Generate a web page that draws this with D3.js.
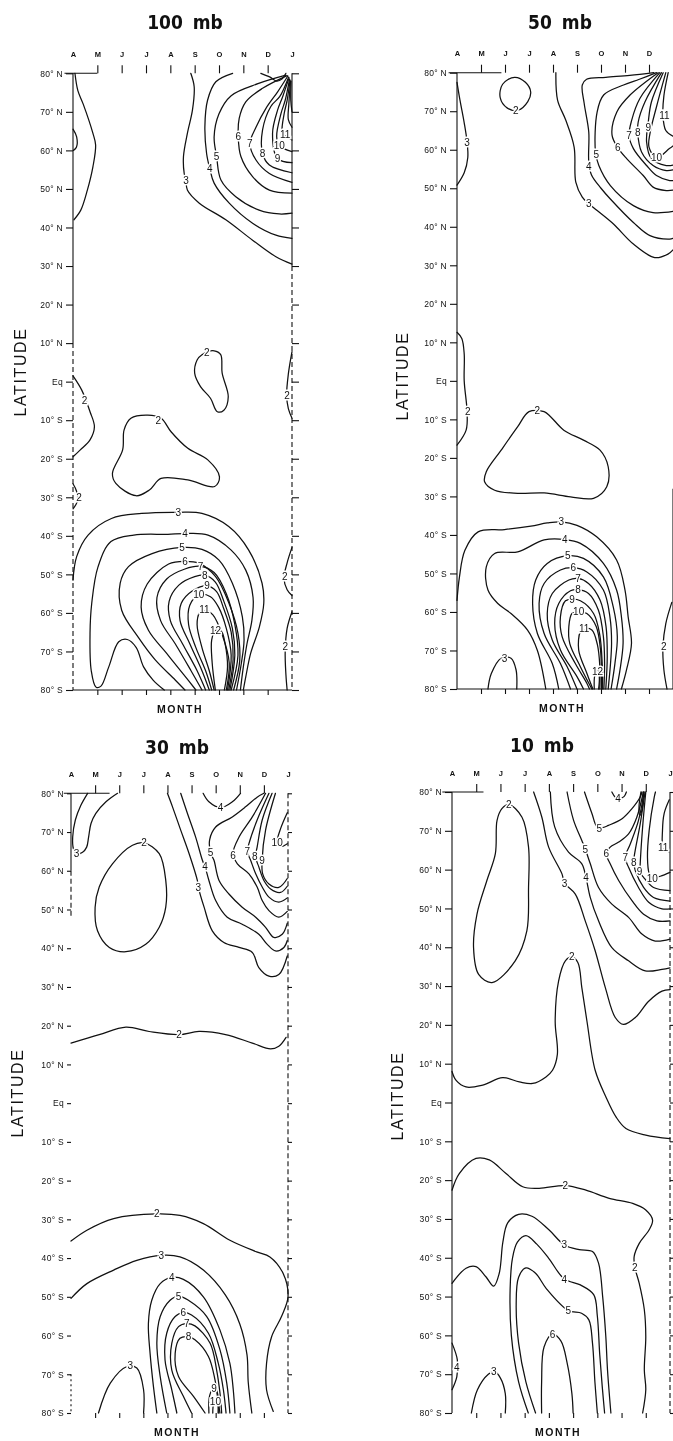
<!DOCTYPE html>
<html>
<head>
<meta charset="utf-8">
<script src="https://cdn.jsdelivr.net/npm/d3@7"></script>
<style>
  body { margin: 0; background: #fff; }
  svg { display: block; filter: grayscale(1); }
  .ct { fill: none; stroke: #111; stroke-width: 1.25; stroke-linejoin: round; stroke-linecap: round; }
  .lbl { font-family: "Liberation Sans", Arial, sans-serif; font-size: 10px; fill: #111;
         paint-order: stroke; stroke: #fff; stroke-width: 3px; text-anchor: middle; dominant-baseline: central; }
  .title { font-family: "Liberation Sans Narrow", "DejaVu Sans Condensed", "Liberation Sans", sans-serif;
           font-weight: bold; font-size: 19px; text-anchor: middle; fill: #111; word-spacing: 4px; }
  .axtitle { font-family: "Liberation Sans", Arial, sans-serif; fill: #111; text-anchor: middle; }
  .ax { stroke: #111; stroke-width: 1.1; fill: none; }
</style>
</head>
<body>
<svg id="chart" width="673" height="1441"></svg>
<script>
// months along the top, April .. January
const months = ["A", "M", "J", "J", "A", "S", "O", "N", "D", "J"];
const latTicks = [80, 70, 60, 50, 40, 30, 20, 10, 0, -10, -20, -30, -40, -50, -60, -70, -80];

// contour lines: v = isoline value, p = [month index, latitude], l = label spots
const c100 = [
  { v: 3, p: [[0.08,80],[0.2,75.5],[0.42,72],[0.82,64.4],[0.93,61.4],[0.82,55.8],[0.59,49.7],[0.32,44.5],[0.04,42]], l: [] },
  { v: 3, p: [[0,65.5],[0.15,63.5],[0.14,60.8],[0.02,60]], l: [] },
  { v: 3, p: [[4.84,80],[4.98,76.5],[4.91,70.5],[4.7,64.4],[4.54,58.4],[4.57,54],[4.64,52.3],[4.7,49.7],[5.19,46.3],[6.28,42],[7.38,36.7],[8.34,32.4],[9,30.5]], l: [[4.64,52.3]] },
  { v: 4, p: [[6.56,80],[5.87,77.8],[5.53,73],[5.42,66.2],[5.49,59.2],[5.62,55.3],[5.8,51.5],[6.42,46.3],[7.38,41.1],[8.34,38],[9,37.2]], l: [[5.62,55.3]] },
  { v: 5, p: [[8.75,79.5],[7.6,77.3],[6.5,74.2],[6.0,69.5],[5.8,63.5],[5.9,58.5],[6.08,52.3],[6.69,48],[7.65,44.5],[8.48,43.5],[9,43.7]], l: [[5.9,58.5]] },
  { v: 6, p: [[8.8,79.4],[7.79,76.1],[7.1,72.6],[6.83,68.3],[6.79,63.6],[6.9,58.4],[7.38,53.2],[8.07,49.7],[9,48.9]], l: [[6.79,63.6]] },
  { v: 7, p: [[8.83,79.3],[8.41,75.2],[7.93,70.9],[7.52,66],[7.27,61.8],[7.52,57.5],[8.07,54],[9,51.7]], l: [[7.27,61.8]] },
  { v: 8, p: [[8.86,79],[8.5,74],[8.13,71.4],[7.79,65.3],[7.79,59.2],[8.07,56.2],[9,54.2]], l: [[7.79,59.2]] },
  { v: 9, p: [[8.88,78.8],[8.62,74],[8.41,70.5],[8.2,64.4],[8.41,57.9],[9,56.8]], l: [[8.41,57.9]] },
  { v: 10, p: [[8.9,78.5],[8.72,73],[8.55,69.6],[8.37,63.6],[8.48,61.2],[9,59.7]], l: [[8.48,61.2]] },
  { v: 11, p: [[8.92,78.2],[8.8,73],[8.68,69.6],[8.6,64.9],[8.72,64],[9,62.7]], l: [[8.72,64]] },
  { v: 12, p: [[8.94,78],[8.87,72],[8.85,68],[9,66]], l: [] },
  { v: 13, p: [[8.96,78],[8.95,73],[9,70]], l: [] },
  { v: 5, p: [[7.72,80],[8.1,79],[8.37,78],[8.6,78.6],[8.75,80]], l: [] },
  { v: 2, c: 1, p: [[5.3,7],[5.1,5.6],[5.0,2.2],[5.24,-1.3],[5.65,-4.3],[5.93,-7.8],[6.2,-7.4],[6.38,-3.9],[6.13,2.2],[6.07,7],[5.8,8]], l: [[5.5,7.6]] },
  { v: 2, p: [[0,1.5],[0.36,-2.2],[0.7,-7.8],[0.88,-11.7],[0.7,-15.1],[0.3,-17.7],[0,-19.5]], l: [[0.47,-5]] },
  { v: 2, p: [[0,-26.5],[0.15,-28.5],[0.18,-31],[0,-33]], l: [[0.25,-30]] },
  { v: 2, c: 1, p: [[2.1,-12.5],[2.04,-17.7],[1.62,-23.8],[1.76,-26.4],[2.59,-29.6],[3.14,-28.1],[3.62,-25.1],[4.72,-25.5],[5.82,-27.2],[6.02,-24.7],[5.54,-20.3],[4.72,-17.3],[4.03,-13],[3.62,-9.5],[3.07,-8.7],[2.38,-9.5]], l: [[3.5,-10]] },
  { v: 2, p: [[9,7.8],[8.85,2],[8.78,-3.5],[8.85,-7],[9,-9.5]], l: [[8.8,-3.5]] },
  { v: 2, p: [[9,-43],[8.8,-47],[8.67,-51],[8.8,-54],[9,-55.5]], l: [[8.7,-50.5]] },
  { v: 2, p: [[9,-59.7],[8.8,-64],[8.72,-70],[8.75,-76],[8.8,-80]], l: [[8.72,-68.8]] },
  { v: 3, p: [[0,-51.5],[0.15,-45.4],[0.62,-39.8],[1.58,-35.5],[2.82,-34.2],[4.33,-33.9],[5.3,-34.2],[6.4,-37.6],[7.22,-43.7],[7.77,-52.3],[7.84,-57.5],[7.66,-63.6],[7.3,-70.5],[7.1,-76.6],[7.0,-80]], l: [[4.33,-33.9]] },
  { v: 4, p: [[3.75,-80],[3.3,-77.5],[2.9,-74],[2.6,-69],[2.23,-66.9],[1.88,-67.5],[1.47,-74],[1.15,-79],[0.95,-79.3],[0.75,-75],[0.7,-65.3],[0.77,-57.5],[1.03,-48],[1.56,-41.5],[2.5,-39.8],[3.9,-39.6],[4.6,-39.4],[5.55,-39.8],[6.5,-43.7],[7.1,-48.9],[7.4,-56],[7.35,-62],[7.15,-68],[7.0,-74],[6.88,-80]], l: [[4.6,-39.4]] },
  { v: 5, p: [[4.6,-80],[4.2,-77.4],[3.38,-72.2],[2.7,-66.5],[2.0,-59.3],[1.94,-52.3],[2.28,-48],[3.25,-44.6],[4.48,-43],[5.3,-43.5],[6.0,-46.3],[6.55,-52.3],[6.96,-61],[7.03,-67],[6.92,-73],[6.72,-80]], l: [[4.48,-43]] },
  { v: 6, p: [[5.05,-80],[4.55,-76],[3.85,-70.5],[3.1,-64.5],[2.8,-58.5],[3.05,-52.5],[3.93,-47.3],[4.6,-46.6],[5.17,-47.1],[5.86,-50.6],[6.41,-57.5],[6.78,-65.3],[6.85,-72.5],[6.6,-80]], l: [[4.6,-46.6]] },
  { v: 7, p: [[5.3,-80],[4.85,-75],[4.2,-68],[3.6,-62],[3.45,-56],[3.85,-51.2],[4.6,-48.6],[5.24,-47.9],[5.8,-49.5],[6.3,-55],[6.65,-63],[6.78,-71],[6.5,-80]], l: [[5.24,-47.9]] },
  { v: 8, p: [[5.45,-80],[5.1,-75],[4.5,-68],[4.0,-62],[3.95,-57],[4.35,-52.8],[5.0,-50.6],[5.42,-50.2],[5.85,-52],[6.2,-57],[6.55,-64],[6.65,-71],[6.45,-80]], l: [[5.42,-50.2]] },
  { v: 9, p: [[5.6,-80],[5.3,-75],[4.8,-68],[4.4,-62],[4.45,-57.5],[4.9,-54.3],[5.51,-53],[5.9,-54.5],[6.2,-59],[6.5,-65],[6.58,-72],[6.4,-80]], l: [[5.51,-53]] },
  { v: 10, p: [[5.7,-80],[5.45,-75],[5.05,-69],[4.75,-63],[4.8,-58],[5.17,-55.3],[5.65,-55.8],[5.98,-58.5],[6.3,-64],[6.5,-71],[6.35,-80]], l: [[5.17,-55.2]] },
  { v: 11, p: [[5.8,-80],[5.6,-75],[5.3,-69],[5.1,-63],[5.2,-60],[5.4,-59.2],[5.75,-60.5],[6.15,-66],[6.42,-73],[6.3,-80]], l: [[5.4,-59.1]] },
  { v: 12, p: [[5.85,-80],[5.72,-73],[5.7,-67],[5.86,-64.5],[6.1,-64.8],[6.25,-68],[6.35,-74],[6.22,-80]], l: [[5.86,-64.5]] }
];

const c50 = [
  { v: 3, p: [[0,77.5],[0.12,73],[0.3,67],[0.42,62],[0.45,58],[0.3,54],[0,50.8]], l: [[0.42,62]] },
  { v: 2, c: 1, p: [[2.4,78.8],[2.85,77.5],[3.07,75],[2.95,72.5],[2.55,70.3],[2.1,70.8],[1.8,73.5],[1.9,77]], l: [[2.45,70.3]] },
  { v: 3, p: [[4.12,80],[4.19,72.9],[4.53,67.7],[4.88,60.7],[4.95,51.6],[5.22,47.7],[5.49,46],[5.84,44.2],[6.52,40.7],[7.35,35.5],[8.24,32],[8.79,32.9],[9,34]], l: [[5.49,46]] },
  { v: 4, p: [[8.2,80],[7.2,79.3],[6.2,78.8],[5.4,78.3],[5.22,76.8],[5.3,72],[5.49,64.6],[5.49,57],[5.6,53.5],[6.0,50],[6.39,47.2],[7.35,41.1],[8.04,37.7],[8.86,36.8],[9,37]], l: [[5.49,55.6]] },
  { v: 5, p: [[8.31,80],[7.6,78.3],[6.94,76.8],[6.11,74.2],[5.84,69.8],[5.77,59.4],[5.91,55.9],[6.39,50.7],[7.35,45.5],[8.17,43.7],[9,44]], l: [[5.8,58.7]] },
  { v: 6, p: [[8.38,80],[7.21,74.2],[6.66,69.8],[6.46,63.8],[6.73,60.3],[7.07,57.7],[7.76,53.3],[8.17,50.3],[8.72,49.4],[9,49.5]], l: [[6.7,60.5]] },
  { v: 7, p: [[8.45,80],[7.62,73.3],[7.28,67.7],[7.17,63.7],[7.35,60.3],[7.9,55.9],[8.31,53.3],[8.86,52],[9,52]], l: [[7.17,63.7]] },
  { v: 8, p: [[8.52,80],[7.83,72.4],[7.55,67.2],[7.53,64.4],[7.69,59.4],[8.17,55.9],[8.72,54.6],[9,54.8]], l: [[7.53,64.4]] },
  { v: 9, p: [[8.59,80],[8.1,72.4],[7.97,67.2],[7.9,62],[8.1,57.7],[8.72,55.9],[9,56]], l: [[7.97,65.7]] },
  { v: 10, p: [[8.7,80],[8.31,71.1],[8.04,64.2],[8.0,60.7],[8.31,57.9],[8.85,60.3],[9,61]], l: [[8.31,57.9]] },
  { v: 11, p: [[8.8,80],[8.62,74],[8.58,69],[8.7,65],[9,63.5]], l: [[8.64,69]] },
  { v: 2, p: [[0,12.6],[0.2,11],[0.3,7],[0.3,0],[0.42,-8],[0.38,-12.8],[0,-16.7]], l: [[0.45,-8]] },
  { v: 2, c: 1, p: [[3.0,-8],[2.53,-11.9],[1.84,-18],[1.22,-23.6],[1.15,-26.2],[1.57,-28.4],[2.53,-29.2],[3.63,-29.1],[4.73,-30.1],[5.69,-30.5],[6.24,-27.5],[6.3,-22.3],[5.96,-18],[5.27,-15.4],[4.45,-12.8],[3.9,-9.3],[3.63,-8]], l: [[3.35,-7.6]] },
  { v: 3, p: [[0,-57],[0.1,-51],[0.33,-44],[0.88,-39.2],[1.98,-38.6],[3.08,-37.7],[3.76,-36.9],[4.35,-36.6],[5.0,-37.5],[5.82,-40.5],[6.65,-46.5],[7.0,-54.3],[7.13,-61.2],[7.27,-68.2],[7.06,-75.1],[6.85,-80]], l: [[4.35,-36.6]] },
  { v: 4, p: [[3.7,-80],[3.35,-70],[2.94,-64.7],[2.25,-60.4],[1.7,-57.8],[1.29,-54.3],[1.22,-48.3],[1.57,-44.8],[2.53,-44.4],[3.63,-41.3],[4.49,-41.2],[5.14,-42.2],[6.1,-47.4],[6.65,-54.3],[6.85,-61.2],[6.92,-68.2],[6.79,-75.1],[6.65,-80]], l: [[4.49,-41.2]] },
  { v: 5, p: [[4.24,-80],[3.97,-73.4],[3.35,-65.6],[3.15,-57.8],[3.28,-51.7],[3.76,-47.4],[4.62,-45.4],[5.27,-46.1],[6.1,-50.9],[6.51,-58.7],[6.68,-66.4],[6.58,-73.4],[6.42,-80]], l: [[4.62,-45.4]] },
  { v: 6, p: [[4.73,-80],[4.31,-73.4],[3.63,-65.6],[3.42,-57.8],[3.63,-52.6],[4.31,-49.1],[4.84,-48.5],[5.41,-49.6],[6.1,-54.3],[6.37,-61.2],[6.44,-68.2],[6.3,-80]], l: [[4.84,-48.5]] },
  { v: 7, p: [[5.0,-80],[4.59,-74.2],[3.97,-67.3],[3.76,-60.4],[3.97,-55.2],[4.66,-51.7],[5.04,-51.3],[5.48,-52.6],[5.96,-56.9],[6.21,-63.8],[6.26,-71.6],[6.2,-80]], l: [[5.04,-51.3]] },
  { v: 8, p: [[5.27,-80],[5.0,-76.8],[4.31,-69.9],[4.07,-63],[4.24,-57.8],[4.73,-54.5],[5.04,-54.2],[5.48,-55.2],[5.89,-59.5],[6.1,-66.4],[6.15,-73.4],[6.12,-80]], l: [[5.04,-54.2]] },
  { v: 9, p: [[5.52,-80],[5.41,-78.5],[4.93,-73.4],[4.38,-66.4],[4.31,-61.2],[4.52,-57.1],[4.79,-56.7],[5.14,-57.1],[5.69,-60.4],[5.95,-66],[6.05,-73.4],[6.07,-80]], l: [[4.79,-56.7]] },
  { v: 10, p: [[5.62,-80],[5.14,-74.2],[4.7,-68.2],[4.66,-63.8],[4.79,-60.4],[5.07,-59.9],[5.41,-60.4],[5.8,-63.8],[5.98,-69.9],[6.02,-80]], l: [[5.07,-59.9]] },
  { v: 11, p: [[5.66,-80],[5.41,-75.9],[5.07,-69.9],[5.14,-65.1],[5.3,-64.3],[5.62,-64.7],[5.85,-68.5],[5.95,-74],[5.95,-80]], l: [[5.3,-64.3]] },
  { v: 12, p: [[5.72,-80],[5.74,-76.5],[5.86,-75],[5.93,-77],[5.9,-80]], l: [[5.86,-75.5]] },
  { v: 3, p: [[1.29,-80],[1.43,-76],[1.84,-72],[2.25,-72],[2.46,-75],[2.49,-80]], l: [[1.98,-72]] },
  { v: 2, p: [[8.95,-57.5],[8.7,-63],[8.58,-69],[8.62,-75],[8.75,-80]], l: [[8.62,-69]] }
];

const c30 = [
  { v: 3, p: [[0.69,80],[0.4,76.8],[0.18,73.1],[0.07,68.7],[0.1,65.7],[0.23,64.4],[0.48,64.8],[0.65,66.1],[0.73,68.7],[0.83,72.2],[1.03,74.8],[1.45,77.8],[1.93,80]], l: [[0.23,64.4]] },
  { v: 2, c: 1, p: [[3.03,67.2],[3.66,64.4],[3.93,57.5],[3.93,50.6],[3.66,45.4],[3.1,41],[2.28,39.1],[1.59,40.2],[1.1,44.5],[1.0,50.6],[1.17,55.8],[1.72,61.8],[2.55,66.6]], l: [[3.03,67.2]] },
  { v: 4, p: [[5.48,80],[5.72,77.8],[6.2,76.3],[6.69,77.8],[7.03,80]], l: [[6.2,76.4]] },
  { v: 3, p: [[4.0,80],[4.21,76.5],[4.55,70.5],[4.9,64.4],[5.24,57.5],[5.28,55.8],[5.52,50.6],[5.86,44.5],[6.34,41.5],[6.97,40.2],[7.52,38.9],[7.79,35],[8.21,32.8],[8.62,33.2],[8.97,38]], l: [[5.28,55.8]] },
  { v: 4, p: [[4.55,80],[4.83,74.8],[5.17,68.7],[5.45,62.7],[5.56,61],[5.72,57.5],[6.0,52.3],[6.48,48],[7.1,46.2],[7.79,43.6],[8.14,41],[8.48,39.3],[8.83,40.2],[8.97,42]], l: [[5.56,61]] },
  { v: 5, p: [[8.0,80],[7.72,79],[7.24,76.5],[6.69,73.9],[6.0,71.3],[5.75,68],[5.79,64.6],[5.93,62.7],[6.14,57.5],[6.55,54],[7.1,50.6],[7.66,48],[8.07,45.4],[8.41,42.8],[8.76,43.6],[8.97,46.5]], l: [[5.79,64.6]] },
  { v: 6, p: [[8.07,80],[7.52,73.9],[6.97,68.7],[6.72,64.5],[6.9,61.8],[7.38,59.2],[7.72,55.8],[7.93,52.3],[8.21,49.7],[8.62,48],[8.97,49.5]], l: [[6.72,64]] },
  { v: 7, p: [[8.21,80],[7.72,73.1],[7.38,67],[7.31,65],[7.45,62.7],[7.66,59.2],[7.93,55.8],[8.21,53.2],[8.62,51.9],[8.97,53]], l: [[7.31,65]] },
  { v: 8, p: [[8.34,80],[7.93,73.1],[7.72,66.1],[7.65,63.7],[7.79,61],[8.0,57.5],[8.28,55.3],[8.69,54.4],[8.97,56]], l: [[7.62,63.7]] },
  { v: 9, p: [[8.48,80],[8.07,70.5],[7.93,63],[7.95,59.2],[8.21,56.6],[8.62,55.7],[8.97,58]], l: [[7.92,62.6]] },
  { v: 10, p: [[8.97,75],[8.7,71],[8.55,67.2],[8.7,66.3],[8.97,67]], l: [[8.55,67.2]] },
  { v: 2, p: [[0,15.5],[1.17,17.7],[2.28,19.6],[3.24,18.5],[4.48,17.7],[5.31,18.5],[6.41,17.7],[7.52,15.5],[8.28,14],[8.62,14.7],[8.92,17]], l: [[4.48,17.7]] },
  { v: 2, p: [[0,-35.6],[0.66,-32.8],[1.77,-29.8],[3.56,-28.6],[4.52,-29],[5.49,-31.1],[6.59,-35.4],[7.7,-38.4],[8.25,-39.7],[8.8,-44],[9.0,-50],[8.73,-55.1],[8.32,-60.3],[8.11,-67.2],[8.11,-74],[8.39,-79.6]], l: [[3.56,-28.6]] },
  { v: 3, p: [[0,-50.4],[0.66,-46.6],[1.77,-43.1],[2.73,-40.6],[3.74,-39.3],[4.52,-39.7],[5.49,-43.1],[6.4,-49.5],[7.0,-57],[7.3,-65],[7.35,-72],[7.5,-80]], l: [[3.74,-39.3]] },
  { v: 4, p: [[3.56,-80],[3.42,-73.2],[3.28,-64.6],[3.21,-56.9],[3.35,-50.9],[3.7,-46.6],[4.18,-45],[4.66,-45.5],[5.49,-50],[6.18,-58.6],[6.59,-67.2],[6.73,-74],[6.8,-80]], l: [[4.18,-45]] },
  { v: 5, p: [[3.97,-80],[3.7,-70.6],[3.56,-62],[3.7,-55.1],[4.11,-50.9],[4.46,-49.8],[4.87,-50.9],[5.63,-55.1],[6.18,-63.7],[6.46,-72.3],[6.59,-80]], l: [[4.46,-49.8]] },
  { v: 6, p: [[4.39,-80],[4.18,-74],[3.9,-66.3],[3.97,-59.4],[4.32,-55.1],[4.66,-54.1],[5.0,-54.7],[5.7,-59.4],[6.11,-67.2],[6.32,-74],[6.43,-80]], l: [[4.66,-54.1]] },
  { v: 7, p: [[5.0,-80],[4.66,-75.7],[4.18,-68.9],[4.18,-62],[4.46,-57.7],[4.8,-56.9],[5.14,-57.5],[5.77,-62],[6.04,-68.9],[6.18,-74.9],[6.25,-80]], l: [[4.8,-56.9]] },
  { v: 8, p: [[5.56,-80],[5.08,-75.7],[4.46,-70.6],[4.32,-64.6],[4.52,-60.7],[4.87,-60.3],[5.14,-61.1],[5.7,-65.4],[5.97,-71.4],[6.11,-77.4],[6.18,-80]], l: [[4.87,-60.3]] },
  { v: 9, p: [[5.72,-80],[5.75,-75.5],[5.93,-73.5],[6.08,-75],[6.13,-80]], l: [[5.93,-73.6]] },
  { v: 10, p: [[5.88,-80],[5.93,-77.6],[6.06,-77.2],[6.1,-80]], l: [[5.99,-77]] },
  { v: 3, p: [[1.14,-80],[1.63,-72.3],[2.32,-68],[2.73,-68.4],[3.01,-74],[3.01,-80]], l: [[2.46,-67.8]] }
];

const c10 = [
  { v: 2, c: 1, p: [[2.34,76.8],[2.89,73.5],[3.16,65.8],[3.16,55.4],[3.09,44.2],[2.61,36.5],[1.65,30.9],[1.1,33],[0.89,39.9],[1.03,48.5],[1.44,57.2],[1.79,64.1],[1.86,72.7],[2.06,75.7]], l: [[2.34,76.8]] },
  { v: 3, p: [[3.37,80],[3.71,73.5],[3.99,65.8],[4.54,58.9],[4.65,56.5],[5.09,53.7],[5.5,46.8],[5.91,39.1],[6.33,29.6],[6.74,21.9],[7.08,20.1],[7.57,21.9],[8.12,26.1],[8.67,28.7],[9,29.1]], l: [[4.65,56.5]] },
  { v: 4, p: [[4.06,80],[4.24,71],[4.81,64.5],[5.36,61.5],[5.53,58],[5.71,52.8],[6.05,46.8],[6.6,39.9],[7.29,36.5],[7.98,33.9],[8.67,34.3],[9,34.7]], l: [[5.53,58]] },
  { v: 5, p: [[4.75,80],[5.02,72.7],[5.36,67.5],[5.5,65.3],[5.71,61.5],[6.05,55.4],[6.6,51.1],[7.29,47.7],[7.84,43.4],[8.39,41.6],[9,42.1]], l: [[5.5,65.3]] },
  { v: 5, p: [[5.47,80],[5.78,74.4],[5.98,71.1],[6.2,70.8],[6.46,71.4],[7.02,73.1],[7.43,75.7],[7.77,78.7],[7.84,80]], l: [[6.08,70.7]] },
  { v: 4, p: [[6.6,80],[6.75,78.6],[6.9,78.3],[7.1,78.8],[7.2,80]], l: [[6.85,78.2]] },
  { v: 6, p: [[7.9,80],[7.63,73.5],[7.29,69.2],[6.88,67.1],[6.53,65.8],[6.37,64.1],[6.53,61.5],[6.88,57.2],[7.43,52],[7.91,48.5],[8.46,46.8],[9,46.8]], l: [[6.37,64.1]] },
  { v: 7, p: [[7.93,80],[7.7,72.7],[7.36,66.6],[7.15,63.2],[7.29,60.6],[7.7,55.4],[8.12,51.6],[8.67,49.9],[9,49.9]], l: [[7.15,63.2]] },
  { v: 8, p: [[7.97,80],[7.77,71.8],[7.54,64.1],[7.5,61.9],[7.57,59.7],[7.91,55.4],[8.32,52.8],[9,51.9]], l: [[7.5,61.9]] },
  { v: 9, p: [[8.0,80],[7.87,71],[7.77,61.5],[7.76,59.4],[7.91,58],[8.32,55.4],[9,54.6]], l: [[7.74,59.6]] },
  { v: 10, p: [[8.4,80],[8.35,78.7],[8.14,70.1],[8.07,63.2],[8.14,59],[8.27,57.8],[8.6,58.3],[9,59.3]], l: [[8.27,57.8]] },
  { v: 11, p: [[8.97,78],[8.76,74.5],[8.69,70.1],[8.72,65.8],[8.97,64.5]], l: [[8.72,65.8]] },
  { v: 12, p: [[7.8,80],[7.72,76],[7.76,74],[7.86,76],[7.9,80]], l: [] },
  { v: 2, p: [[0,8],[0.17,5.7],[0.58,4],[1.27,4.5],[2.09,6.4],[2.78,5.3],[3.33,4.9],[3.88,6.6],[4.15,8.3],[4.35,12.4],[4.26,21],[4.4,31.3],[4.68,36.5],[4.95,37.5],[5.2,36],[5.36,29.6],[5.57,21],[5.91,8.3],[6.35,1.5],[6.77,-3.7],[7.18,-6.7],[8.0,-8.4],[9,-9.3]], l: [[4.95,37.5]] },
  { v: 2, p: [[0,-22.6],[0.3,-18.3],[0.99,-14.4],[1.54,-14.8],[2.23,-18.3],[2.92,-21.7],[3.6,-22.1],[4.68,-21.4],[5.53,-22.6],[6.49,-24.7],[7.46,-26],[8.0,-27.7],[8.28,-30.3],[8.14,-32.8],[7.73,-36.3],[7.52,-39.7],[7.55,-42.5],[7.73,-46.6],[7.94,-53.4],[8.0,-60.3],[7.94,-68.9],[8.0,-74],[7.87,-80]], l: [[4.68,-21.4],[7.55,-42.5]] },
  { v: 3, p: [[0,-46.6],[0.58,-42.7],[0.99,-42.3],[1.4,-44.9],[1.72,-47.3],[1.95,-44],[2.1,-36],[2.3,-31],[2.75,-28.8],[3.3,-29.3],[4.0,-32.8],[4.64,-36.7],[5.25,-37.9],[5.8,-38.4],[6.05,-41.4],[6.22,-50],[6.35,-60.3],[6.42,-68.9],[6.56,-80]], l: [[4.64,-36.7]] },
  { v: 4, p: [[3.15,-80],[2.75,-72],[2.45,-60],[2.4,-48],[2.5,-40],[2.7,-36],[3.05,-34.3],[3.5,-36.5],[4.0,-40.2],[4.64,-45.5],[5.3,-47],[5.85,-49.5],[6.0,-55],[6.1,-65],[6.2,-73],[6.3,-80]], l: [[4.64,-45.5]] },
  { v: 5, p: [[3.45,-80],[3.05,-72],[2.75,-62],[2.65,-52],[2.75,-45],[3.05,-42.6],[3.45,-44],[3.9,-48],[4.8,-53.6],[5.35,-54.3],[5.65,-56],[5.8,-62],[5.9,-72],[6.0,-80]], l: [[4.8,-53.6]] },
  { v: 6, p: [[3.7,-80],[3.7,-72],[3.8,-63],[4.15,-59.7],[4.5,-61.5],[4.75,-67],[4.95,-75],[5.0,-80]], l: [[4.15,-59.7]] },
  { v: 3, p: [[0.8,-80],[1.05,-74],[1.5,-70],[1.75,-69.3],[2.0,-71],[2.2,-75],[2.2,-80]], l: [[1.72,-69.3]] },
  { v: 4, p: [[0,-62],[0.22,-66.3],[0.2,-70.6],[0,-74]], l: [[0.2,-68.3]] }
];

// page layout for the four panels (m = month indexes whose top label is shown)
const panels = [
  { title: "100 mb", data: c100, x0: 73, x1: 292, y0: 73.3, y1: 690, tx: 185, ty: 29, m: 10,
    left: [[80, 10, "s"], [10, -80, "d"]], right: [[80, 30, "s"], [30, -80, "d"]],
    top: [-0.35, 1.0], bottom: true, ltick: 7, latX: 20, latY: 372, monX: 180, monY: 713 },
  { title: "50 mb", data: c50, x0: 457, x1: 673, y0: 72.7, y1: 689, tx: 560, ty: 29, m: 9,
    left: [[80, -80, "s"]], right: [[-28, -80, "s"]],
    top: [-0.35, 1.85], bottom: true, ltick: 7, latX: 402, latY: 376, monX: 562, monY: 712 },
  { title: "30 mb", data: c30, x0: 71, x1: 288, y0: 793.3, y1: 1413, tx: 177, ty: 754, m: 10,
    left: [[80, 60, "s"], [60, 48, "d"], [-70, -80, "p"]], right: [[80, -80, "d"]],
    top: [-0.3, 1.6], bottom: false, ltick: 4, latX: 17, latY: 1093, monX: 177, monY: 1436 },
  { title: "10 mb", data: c10, x0: 452, x1: 670, y0: 792, y1: 1413, tx: 542, ty: 752, m: 10,
    left: [[80, -80, "s"]], right: [[80, 55, "s"], [55, -80, "d"]],
    top: [-0.4, 1.3], bottom: false, ltick: 7, latX: 397, latY: 1096, monX: 558, monY: 1436 }
];

const svg = d3.select("#chart");
const latFmt = d => d === 0 ? "Eq" : `${Math.abs(d)}° ${d > 0 ? "N" : "S"}`;
const dashes = { s: null, d: "5,3", p: "2,3" };

panels.forEach(P => {
  const x = d3.scaleLinear().domain([0, 9]).range([P.x0, P.x1]);
  const y = d3.scaleLinear().domain([80, -80]).range([P.y0, P.y1]);
  const g = svg.append("g");

  g.append("text").attr("class", "title").attr("x", P.tx).attr("y", P.ty).text(P.title);

  // left axis: ticks + latitude labels
  const la = g.append("g").attr("transform", `translate(${P.x0},0)`)
    .call(d3.axisLeft(y).tickValues(latTicks).tickSize(P.ltick).tickPadding(3).tickFormat(latFmt));
  la.select(".domain").remove();
  la.attr("font-size", null).attr("font-family", null);
  la.selectAll(".tick line").attr("stroke", "#111").attr("stroke-width", 1.1);
  la.selectAll(".tick text").attr("fill", "#111")
    .style("font-family", "'Liberation Sans', Arial, sans-serif").style("font-size", "8.5px")
    .style("letter-spacing", "0.3px");

  // right axis ticks
  const ra = g.append("g").attr("transform", `translate(${P.x1},0)`)
    .call(d3.axisRight(y).tickValues(latTicks).tickSize(P.ltick).tickFormat(""));
  ra.select(".domain").remove();
  ra.selectAll(".tick line").attr("stroke", "#111").attr("stroke-width", 1.1);

  // top month axis
  const ta = g.append("g").attr("transform", `translate(0,${P.y0})`)
    .call(d3.axisTop(x).tickValues(d3.range(10)).tickSize(8).tickPadding(8.5)
      .tickFormat(i => i < P.m ? months[i] : ""));
  ta.select(".domain").remove();
  ta.attr("font-size", null).attr("font-family", null);
  ta.selectAll(".tick line").filter(d => d === 0 || d === 9).remove();
  ta.selectAll(".tick line").attr("stroke", "#111").attr("stroke-width", 1.1);
  ta.selectAll(".tick text").attr("fill", "#111")
    .style("font-family", "'Liberation Sans', Arial, sans-serif").style("font-size", "7.5px").style("font-weight", "bold");

  // bottom month ticks
  const ba = g.append("g").attr("transform", `translate(0,${P.y1})`)
    .call(d3.axisBottom(x).tickValues(d3.range(1, 9)).tickSize(5).tickFormat(""));
  ba.select(".domain").remove();
  ba.selectAll(".tick line").attr("stroke", "#111").attr("stroke-width", 1.1);
  if (P.bottom) {
    g.append("line").attr("class", "ax").attr("stroke-width", 0.8)
      .attr("x1", x(0)).attr("x2", x(9)).attr("y1", P.y1).attr("y2", P.y1);
  }

  // frame pieces
  g.append("line").attr("class", "ax")
    .attr("x1", x(P.top[0])).attr("x2", x(P.top[1])).attr("y1", P.y0).attr("y2", P.y0);
  P.left.forEach(s => g.append("line").attr("class", "ax").attr("stroke-dasharray", dashes[s[2]])
    .attr("x1", P.x0).attr("x2", P.x0).attr("y1", y(s[0])).attr("y2", y(s[1])));
  P.right.forEach(s => g.append("line").attr("class", "ax").attr("stroke-dasharray", dashes[s[2]])
    .attr("x1", P.x1).attr("x2", P.x1).attr("y1", y(s[0])).attr("y2", y(s[1])));

  // contours
  const open = d3.line().x(d => x(d[0])).y(d => y(d[1])).curve(d3.curveCatmullRom.alpha(0.5));
  const closed = d3.line().x(d => x(d[0])).y(d => y(d[1])).curve(d3.curveCatmullRomClosed.alpha(0.5));
  g.append("g").selectAll("path").data(P.data).join("path")
    .attr("class", "ct")
    .attr("d", d => (d.c ? closed : open)(d.p));

  const labs = P.data.flatMap(d => d.l.map(pt => ({ v: d.v, pt })));
  g.append("g").selectAll("text").data(labs).join("text")
    .attr("class", "lbl")
    .attr("x", d => x(d.pt[0])).attr("y", d => y(d.pt[1]))
    .text(d => d.v);

  // axis titles
  g.append("text").attr("class", "axtitle")
    .attr("transform", `translate(${P.latX},${P.latY}) rotate(-90)`)
    .attr("dy", "0.35em")
    .style("font-size", "16px").style("letter-spacing", "1.6px")
    .text("LATITUDE");
  g.append("text").attr("class", "axtitle")
    .attr("x", P.monX).attr("y", P.monY)
    .style("font-size", "10.5px").style("font-weight", "bold").style("letter-spacing", "1.5px")
    .text("MONTH");
});
</script>
</body>
</html>
